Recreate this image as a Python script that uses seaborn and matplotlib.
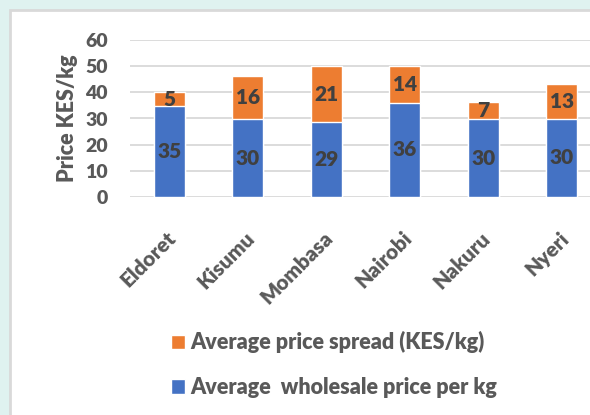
import pandas as pd
import matplotlib.pyplot as plt
import matplotlib.transforms as mtransforms
import seaborn as sns
from matplotlib.patches import Rectangle, Patch

# Data
towns = ['Eldoret', 'Kisumu', 'Mombasa', 'Nairobi', 'Nakuru', 'Nyeri']
wholesale = [34.8, 29.7, 28.7, 36.0, 29.8, 29.9]
spread = [5.2, 16.4, 21.3, 14.0, 6.6, 13.3]

BLUE = '#4472C4'
ORANGE = '#ED7D31'
GREY_TXT = '#595959'
LABEL_TXT = '#404040'
WEIGHT = 800

df = pd.DataFrame({'Town': towns, 'Wholesale': wholesale, 'Spread': spread})
df['Total'] = df.Wholesale + df.Spread

sns.set_style('white')
plt.rcParams['font.family'] = ['Lato', 'DejaVu Sans']
plt.rcParams['font.weight'] = WEIGHT

fig = plt.figure(figsize=(5.9, 4.15), dpi=100)
fig.patch.set_facecolor('#DFF2F0')

# white chart panel with grey border
fig.patches.append(Rectangle((10 / 590, -0.1), 1.2, (415 - 10) / 415 + 0.1,
                             transform=fig.transFigure, facecolor='white',
                             edgecolor='#D9D9D9', linewidth=2, zorder=-5))

ax = fig.add_axes([130 / 590, 218 / 415, 471 / 590, 157 / 415])
ax.set_facecolor('none')

# stacked bars: total in orange, wholesale on top in blue
sns.barplot(data=df, x='Town', y='Total', color=ORANGE, width=0.4,
            saturation=1, ax=ax, zorder=3)
sns.barplot(data=df, x='Town', y='Wholesale', color=BLUE, width=0.4,
            saturation=1, ax=ax, zorder=3)

for i, row in df.iterrows():
    ax.text(i, row.Wholesale / 2, f'{row.Wholesale:.0f}', ha='center',
            va='center', fontsize=15, fontweight=WEIGHT, color=LABEL_TXT,
            zorder=4)
    ax.text(i, row.Wholesale + row.Spread / 2, f'{row.Spread:.0f}',
            ha='center', va='center', fontsize=15, fontweight=WEIGHT,
            color=LABEL_TXT, zorder=4)

ax.set_ylim(0, 60)
ax.set_xlim(-0.5, 5.5)
ax.set_yticks(range(0, 61, 10))
ax.yaxis.grid(True, color='#D9D9D9', linewidth=1.3)
ax.set_axisbelow(True)
sns.despine(ax=ax, left=True, bottom=True, top=True, right=True)

ax.tick_params(axis='y', length=0, colors=GREY_TXT, labelsize=14, pad=16)
ax.tick_params(axis='x', length=0, colors=GREY_TXT, labelsize=15, pad=22.5)
shift = mtransforms.ScaledTranslation(-3 / 100, 0, fig.dpi_scale_trans)
for lab in ax.get_xticklabels():
    lab.set_rotation(45)
    lab.set_ha('right')
    lab.set_va('top')
    lab.set_rotation_mode('anchor')
    lab.set_fontweight(WEIGHT)
    lab.set_transform(lab.get_transform() + shift)
for lab in ax.get_yticklabels():
    lab.set_fontweight(WEIGHT)

ax.set_xlabel('')
ax.set_ylabel('Price KES/kg', fontsize=15.5, fontweight=WEIGHT,
              color=GREY_TXT, labelpad=5)

handles = [Patch(facecolor=ORANGE, label='Average price spread (KES/kg)'),
           Patch(facecolor=BLUE, label='Average  wholesale price per kg')]
leg = fig.legend(handles=handles, loc='upper left',
                 bbox_to_anchor=(151.5 / 590, 1 - 312 / 415), frameon=False,
                 fontsize=15.5, handlelength=0.65, handleheight=0.65,
                 handletextpad=0.23, labelspacing=1.09)
for t in leg.get_texts():
    t.set_color(GREY_TXT)
    t.set_fontweight(WEIGHT)

fig.savefig('out.png', dpi=100)
